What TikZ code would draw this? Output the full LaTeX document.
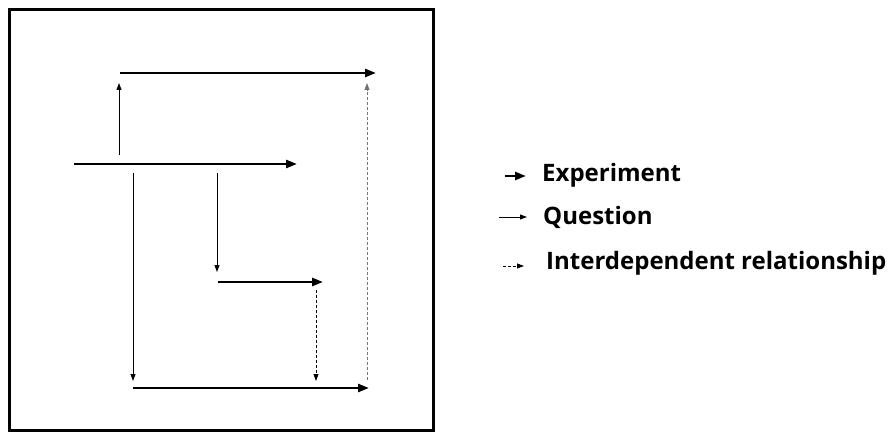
\documentclass[tikz,border=0pt]{standalone}
\usepackage{fontspec}
\setmainfont{Open Sans}
\usetikzlibrary{arrows.meta}
\begin{document}
\begin{tikzpicture}[x=1pt,y=-1pt,
  experiment/.style={line width=2.6pt,-{Triangle[length=11pt,width=8pt]}},
  question/.style={line width=0.9pt,-{Triangle[length=7pt,width=5pt]}},
  interdep/.style={line width=0.8pt,dash pattern=on 3pt off 2pt,-{Triangle[length=7pt,width=5pt]}},
  legendtext/.style={anchor=base west,inner sep=0pt,font=\fontsize{24}{28}\selectfont\bfseries}]
\useasboundingbox (0,0) rectangle (892,433);
\draw[line width=3pt] (9.5,9.5) rectangle (433,430); % edit here for the frame
% edit here for the end points
\foreach \n/\x/\y in {e1s/120/73, e1e/376/73, e2s/74/164, e2e/297/164,
  e3s/218/282, e3e/323/282, e4s/133/388, e4e/369/388,
  q1s/119/155, q1e/119/83, q2s/133/173, q2e/133/381, q3s/217/173, q3e/217/272,
  d1s/316/290, d1e/316/381, d2s/367/380, d2e/367/83,
  le1/505/176, le2/526/176, lq1/499/217, lq2/527/217, ld1/503/266, ld2/524/266}
  \coordinate (\n) at (\x,\y);
\foreach \a/\b in {e1s/e1e, e2s/e2e, e3s/e3e, e4s/e4e, le1/le2} % edit here for experiments
  \draw[experiment] (\a) -- (\b);
\foreach \a/\b in {q1s/q1e, q2s/q2e, q3s/q3e, lq1/lq2} % edit here for questions
  \draw[question] (\a) -- (\b);
\foreach \a/\b in {d1s/d1e, ld1/ld2} % edit here for interdependent ones
  \draw[interdep] (\a) -- (\b);
\draw[interdep,draw=black!55] (d2s) -- (d2e);
% legend
\node[legendtext] (lexp) at (542,182) {Experiment};
\node[legendtext] (lque) at (543,225) {Question};
\node[legendtext] (lint) at (546,269) {Interdependent relationship};
\end{tikzpicture}
\end{document}
